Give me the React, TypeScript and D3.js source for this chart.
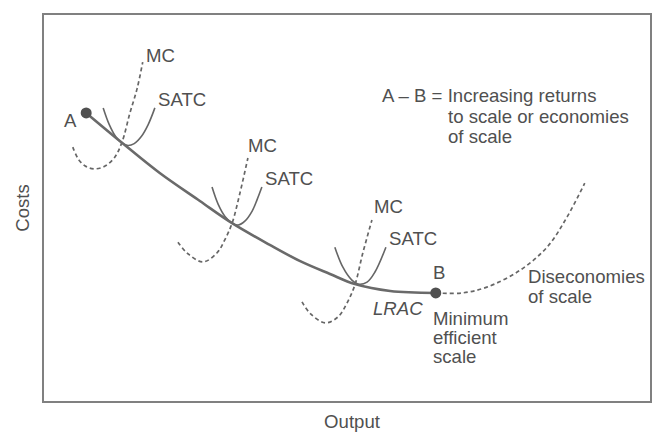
import React from 'react';
import * as d3 from 'd3';

// Curve readings, in chart units: output 0–100 across, costs 0–100 up
const lrac: [number, number][] = [
  [7.1, 74.5], [13.0, 66.8], [19.2, 59.0], [25.8, 51.8], [31.1, 46.1], [37.3, 40.5],
  [42.3, 36.3], [47.2, 33.0], [51.3, 30.4], [57.1, 28.6], [64.6, 28.1],
];
const diseconomies: [number, number][] = [
  [64.6, 28.1], [68.9, 28.1], [73.0, 29.6], [78.5, 34.0], [82.9, 39.9], [86.2, 47.7], [89.1, 56.4],
];
const satc1: [number, number][] = [
  [9.9, 75.8], [10.9, 71.5], [12.0, 68.3], [13.0, 66.7], [14.0, 66.1], [15.0, 66.6], [16.2, 68.5], [17.3, 71.5], [18.4, 75.8],
];
const mc1: [number, number][] = [
  [4.9, 65.7], [5.9, 62.4], [7.2, 60.6], [8.6, 60.1], [10.2, 60.8], [11.8, 63.1], [13.0, 67.0], [14.3, 74.5], [15.5, 80.9], [16.4, 87.6],
];
const satc2: [number, number][] = [
  [27.8, 55.4], [28.8, 51.0], [29.9, 47.9], [31.1, 46.1], [32.1, 45.6], [33.2, 46.6], [34.4, 49.2], [35.2, 52.1], [36.0, 55.4],
];
const mc2: [number, number][] = [
  [22.2, 41.2], [23.7, 38.4], [26.3, 36.1], [28.6, 38.4], [29.9, 41.8], [31.1, 46.1], [32.4, 53.9], [33.7, 62.9],
];
const satc3: [number, number][] = [
  [48.0, 39.9], [49.3, 34.8], [50.8, 31.4], [51.8, 30.4], [53.3, 30.9], [54.6, 33.5], [56.4, 39.9],
];
const mc3: [number, number][] = [
  [42.6, 25.8], [43.9, 22.9], [46.4, 20.4], [48.5, 21.9], [50.0, 25.5], [51.3, 30.2], [52.6, 38.4], [54.1, 46.9],
];
const endPoints: { name: string; pt: [number, number] }[] = [
  { name: 'A', pt: [7.1, 74.5] },
  { name: 'B', pt: [64.6, 28.1] },
];

const W = 652;
const H = 432;
const frame = { left: 43, right: 651, top: 14, bottom: 402 };

const x = d3.scaleLinear().domain([0, 100]).range([frame.left, frame.right]);
const y = d3.scaleLinear().domain([0, 100]).range([frame.bottom, frame.top]);

const line = d3
  .line<[number, number]>()
  .x(d => x(d[0]))
  .y(d => y(d[1]))
  .curve(d3.curveCatmullRom.alpha(0.5));

const ink = '#505050';
const font = '"Liberation Sans", Arial, sans-serif';

const App: React.FC = () => {
  const textStyle = { fontFamily: font, fontSize: 18.6, fill: ink };
  return (
    <svg width={W} height={H} style={{ position: 'absolute', left: 0, top: 0, background: '#fff' }}>
      <rect
        x={frame.left}
        y={frame.top}
        width={frame.right - frame.left}
        height={frame.bottom - frame.top}
        fill="none"
        stroke="#808080"
        strokeWidth={2}
      />

      {/* short-run curves */}
      {[satc1, satc2, satc3].map((c, i) => (
        <path key={'s' + i} d={line(c) || ''} fill="none" stroke="#666" strokeWidth={1.6} />
      ))}
      {[mc1, mc2, mc3].map((c, i) => (
        <path key={'m' + i} d={line(c) || ''} fill="none" stroke="#666" strokeWidth={1.7} strokeDasharray="4 3" />
      ))}

      {/* long-run curve */}
      <path d={line(diseconomies) || ''} fill="none" stroke="#666" strokeWidth={1.7} strokeDasharray="4 3" />
      <path d={line(lrac) || ''} fill="none" stroke="#6a6a6a" strokeWidth={2.6} />
      {endPoints.map(p => (
        <circle key={p.name} cx={x(p.pt[0])} cy={y(p.pt[1])} r={5.5} fill="#505050" />
      ))}

      <g style={textStyle}>
        <text x={64} y={127}>A</text>
        <text x={433} y={279}>B</text>
        <text x={146} y={62}>MC</text>
        <text x={158} y={106}>SATC</text>
        <text x={248} y={152}>MC</text>
        <text x={265} y={185}>SATC</text>
        <text x={374} y={213}>MC</text>
        <text x={389} y={245}>SATC</text>
        <text x={373} y={315} fontStyle="italic">LRAC</text>
        <text x={433} y={325}>Minimum</text>
        <text x={433} y={344}>efficient</text>
        <text x={433} y={363}>scale</text>
        <text x={528} y={283}>Diseconomies</text>
        <text x={528} y={303}>of scale</text>
        <text x={382} y={102}>A – B = Increasing returns</text>
        <text x={448} y={123}>to scale or economies</text>
        <text x={448} y={143}>of scale</text>
        <text x={352} y={428} textAnchor="middle">Output</text>
        <text transform="translate(29,208) rotate(-90)" textAnchor="middle">Costs</text>
      </g>
    </svg>
  );
};

export default App;
